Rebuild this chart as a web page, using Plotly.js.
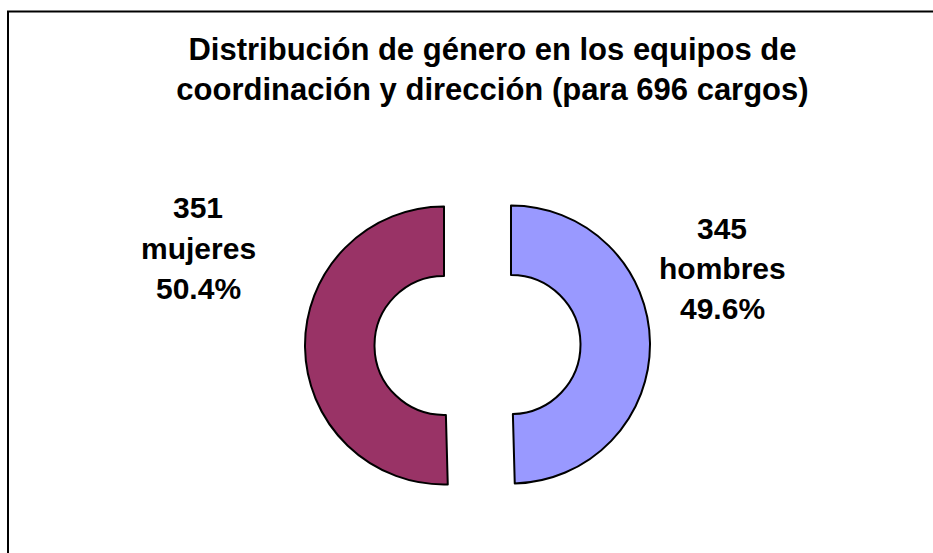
<!DOCTYPE html>
<html>
<head>
<meta charset="utf-8">
<script src="https://cdn.plot.ly/plotly-3.0.1.min.js"></script>
<style>html,body{margin:0;padding:0;background:#fff;}#chart{width:933px;height:553px;}</style>
</head>
<body>
<div id="chart"></div>
<script>
// Data
var categories = ["hombres", "mujeres"];
var counts = [345, 351];
var colors = ["#9999FF", "#993366"];
var titleLines = ["Distribución de género en los equipos de", "coordinación y dirección (para 696 cargos)"];

var total = counts.reduce(function(a, b){ return a + b; }, 0);
var percents = counts.map(function(v){ return (100 * v / total).toFixed(1) + "%"; });

var W = 933, H = 553;
var FONT = "Liberation Sans, Arial, sans-serif";

// label block positions (pixels): [centerX, firstLineCenterY]
var labelPos = { hombres: [722, 228], mujeres: [198, 208] };
var lineStep = 40;

var annotations = [];
categories.forEach(function(cat, i){
  var lines = [String(counts[i]), cat, percents[i]];
  lines.forEach(function(t, k){
    annotations.push({
      xref: "paper", yref: "paper",
      x: labelPos[cat][0] / W,
      y: 1 - (labelPos[cat][1] + k * lineStep) / H,
      xanchor: "center", yanchor: "middle",
      text: "<b>" + t + "</b>",
      showarrow: false,
      font: { family: FONT, size: 30, color: "#000" }
    });
  });
});

var trace = {
  type: "pie",
  labels: categories,
  values: counts,
  hole: 0.5,
  pull: [0.241, 0.241],
  sort: false,
  direction: "clockwise",
  rotation: 0,
  textinfo: "none",
  hoverinfo: "label+value+percent",
  marker: { colors: colors, line: { color: "#000", width: 2 } },
  domain: { x: [305 / W, 650 / W], y: [1 - 517.5 / H, 1 - 172.5 / H] },
  showlegend: false
};

var layout = {
  width: W, height: H,
  margin: { l: 0, r: 0, t: 0, b: 0 },
  paper_bgcolor: "#fff",
  plot_bgcolor: "#fff",
  showlegend: false,
  title: {
    text: "<b>" + titleLines.join("<br>") + "</b>",
    font: { family: FONT, size: 31, color: "#000" },
    x: 492.5 / W, xanchor: "center", xref: "container",
    y: 1 - 60 / H, yanchor: "middle", yref: "container"
  },
  annotations: annotations,
  shapes: [{
    type: "rect", xref: "paper", yref: "paper",
    x0: 8 / W, x1: 1.05, y0: -0.05, y1: 1 - 11.5 / H,
    line: { color: "#000", width: 2 }, fillcolor: "rgba(0,0,0,0)", layer: "below"
  }]
};

Plotly.newPlot("chart", [trace], layout, { displayModeBar: false, staticPlot: true });
</script>
</body>
</html>
